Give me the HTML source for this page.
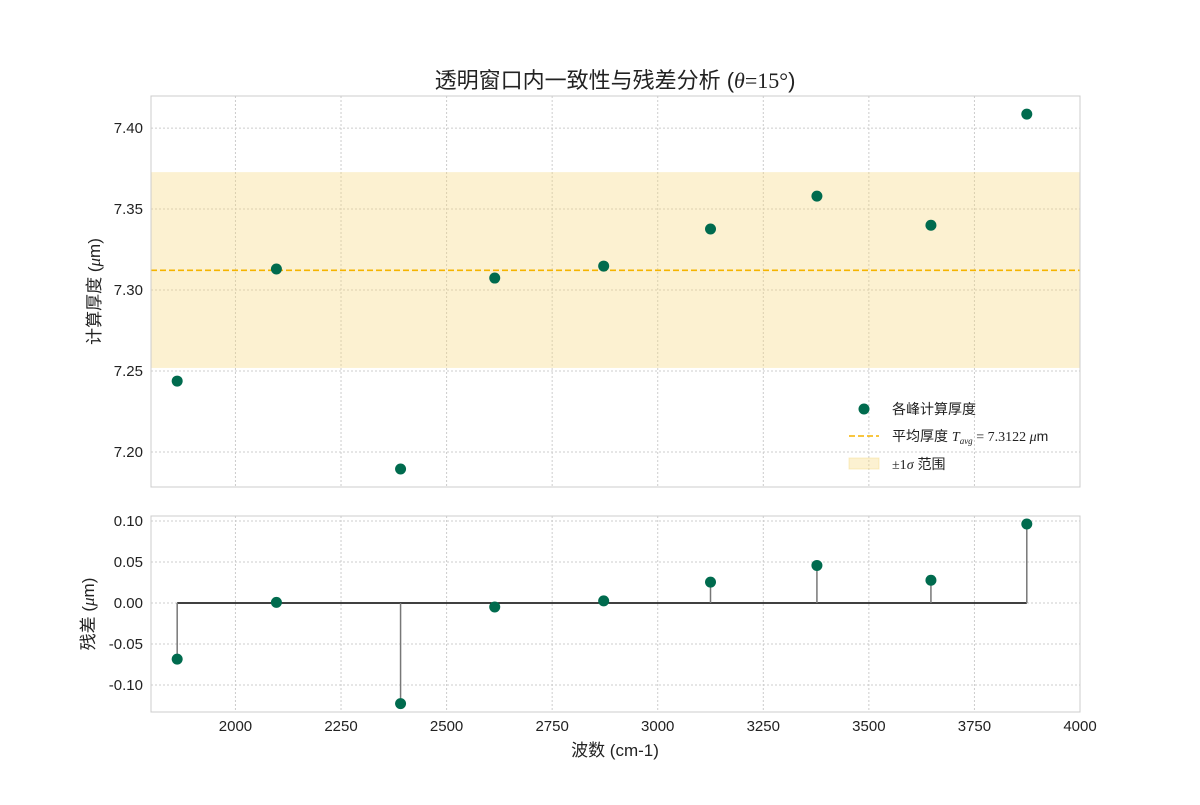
<!DOCTYPE html>
<html><head><meta charset="utf-8"><style>
body{margin:0;background:#fff}
svg text{font-family:"Liberation Sans","Noto Sans CJK SC",sans-serif}
</style></head><body>
<svg id="c" width="1200" height="800" xmlns="http://www.w3.org/2000/svg"></svg>
<script>
const wavenumbers=[1862,2097,2391,2614,2872,3125,3377,3647,3874];
const thickness=[7.2438,7.3130,7.1895,7.3074,7.3148,7.3377,7.3580,7.3400,7.4086];
const tavg=7.3122;
const bandLow=7.2519, bandHigh=7.3728;
const xTicks=[2000,2250,2500,2750,3000,3250,3500,3750,4000];
const yTopTicks=[7.20,7.25,7.30,7.35,7.40];
const yBotTicks=[-0.10,-0.05,0.00,0.05,0.10];
const residuals=thickness.map(v=>v-tavg);

const svg=document.getElementById('c');
const NS='http://www.w3.org/2000/svg';
function el(t,a,p){const e=document.createElementNS(NS,t);for(const k in a)e.setAttribute(k,a[k]);(p||svg).appendChild(e);return e;}
const L=151,R=1080,T1=96,B1=487,T2=516,B2=712;
const xs=v=>L+(v-1800)/(4000-1800)*(R-L);
const y1=v=>T1+(7.4198-v)/(7.4198-7.1784)*(B1-T1);
const y2=v=>T2+(0.1061-v)/(0.1061+0.1329)*(B2-T2);
const green='#006b4e';

let t=el('text',{x:615,y:88,'font-size':22,'text-anchor':'middle',fill:'#222'});

t.innerHTML='透明窗口内一致性与残差分析 (<tspan font-family="Liberation Serif" font-style="italic">θ</tspan><tspan font-family="Liberation Serif">=15°</tspan>)';

[[T1,B1,'top-panel'],[T2,B2,'bottom-panel']].forEach(([a,b,n])=>{
 const g=el('g',{});
 xTicks.forEach(v=>{el('line',{x1:xs(v),x2:xs(v),y1:a,y2:b,stroke:'#ccc','stroke-dasharray':'2,2'},g);});
});
yTopTicks.forEach(v=>{
 el('line',{x1:L,x2:R,y1:y1(v),y2:y1(v),stroke:'#ccc','stroke-dasharray':'2,2'});
 const tx=el('text',{x:L-8,y:y1(v)+5,'font-size':15,'text-anchor':'end',fill:'#222'});
 tx.textContent=v.toFixed(2);
});
yBotTicks.forEach(v=>{
 el('line',{x1:L,x2:R,y1:y2(v),y2:y2(v),stroke:'#ccc','stroke-dasharray':'2,2'});
 const tx=el('text',{x:L-8,y:y2(v)+5,'font-size':15,'text-anchor':'end',fill:'#222'});
 tx.textContent=v.toFixed(2);
});
xTicks.forEach(v=>{
 const tx=el('text',{x:xs(v),y:B2+19,'font-size':15,'text-anchor':'middle',fill:'#222'});
 tx.textContent=v;
});

const band=el('rect',{x:L,y:y1(bandHigh),width:R-L,height:y1(bandLow)-y1(bandHigh),fill:'#f5d77a','fill-opacity':0.35});

const avg=el('line',{x1:L,x2:R,y1:y1(tavg),y2:y1(tavg),stroke:'#f5b400','stroke-width':1.6,'stroke-dasharray':'6,3'});


wavenumbers.forEach((w,i)=>{
 const c=el('circle',{cx:xs(w),cy:y1(thickness[i]),r:5.5,fill:green});
 
});

const zl=el('line',{x1:xs(wavenumbers[0]),x2:xs(wavenumbers[wavenumbers.length-1]),y1:y2(0),y2:y2(0),stroke:'#000','stroke-width':1.5});

wavenumbers.forEach((w,i)=>{
 const s=el('line',{x1:xs(w),x2:xs(w),y1:y2(0),y2:y2(residuals[i]),stroke:'#777','stroke-width':1.5});
 
 const c=el('circle',{cx:xs(w),cy:y2(residuals[i]),r:5.5,fill:green});
 
});

[[T1,B1],[T2,B2]].forEach(([a,b])=>{const f=el('rect',{x:L,y:a,width:R-L,height:b-a,fill:'none',stroke:'#ccc'});});

let yt=el('text',{transform:`translate(100,${(T1+B1)/2}) rotate(-90)`,'font-size':17,'text-anchor':'middle',fill:'#222'});

yt.innerHTML='计算厚度 (<tspan font-family="Liberation Serif" font-style="italic">μ</tspan>m)';
let yb=el('text',{transform:`translate(94,${(T2+B2)/2}) rotate(-90)`,'font-size':17,'text-anchor':'middle',fill:'#222'});

yb.innerHTML='残差 (<tspan font-family="Liberation Serif" font-style="italic">μ</tspan>m)';
let xt=el('text',{x:615,y:756,'font-size':17,'text-anchor':'middle',fill:'#222'});
xt.textContent='波数 (cm-1)';

const lg=el('g',{});
el('circle',{cx:864,cy:409,r:5.5,fill:green},lg);
let l1=el('text',{x:892,y:414,'font-size':14,fill:'#222'},lg);l1.textContent='各峰计算厚度';
el('line',{x1:849,x2:879,y1:436,y2:436,stroke:'#f5b400','stroke-width':1.6,'stroke-dasharray':'6,3'},lg);
let l2=el('text',{x:892,y:441,'font-size':14,fill:'#222'},lg);
l2.innerHTML='平均厚度 <tspan font-family="Liberation Serif" font-style="italic">T</tspan><tspan font-family="Liberation Serif" font-style="italic" font-size="9" dy="3">avg</tspan><tspan font-family="Liberation Serif" dy="-3"> = 7.3122 </tspan><tspan font-family="Liberation Serif" font-style="italic">μ</tspan>m';
el('rect',{x:849,y:458,width:30,height:11,fill:'#f5d77a','fill-opacity':0.35,stroke:'#f5d77a','stroke-opacity':0.4},lg);
let l3=el('text',{x:892,y:469,'font-size':14,fill:'#222'},lg);
l3.innerHTML='<tspan font-family="Liberation Serif">±1</tspan><tspan font-family="Liberation Serif" font-style="italic">σ</tspan> 范围';
</script>
</body></html>
